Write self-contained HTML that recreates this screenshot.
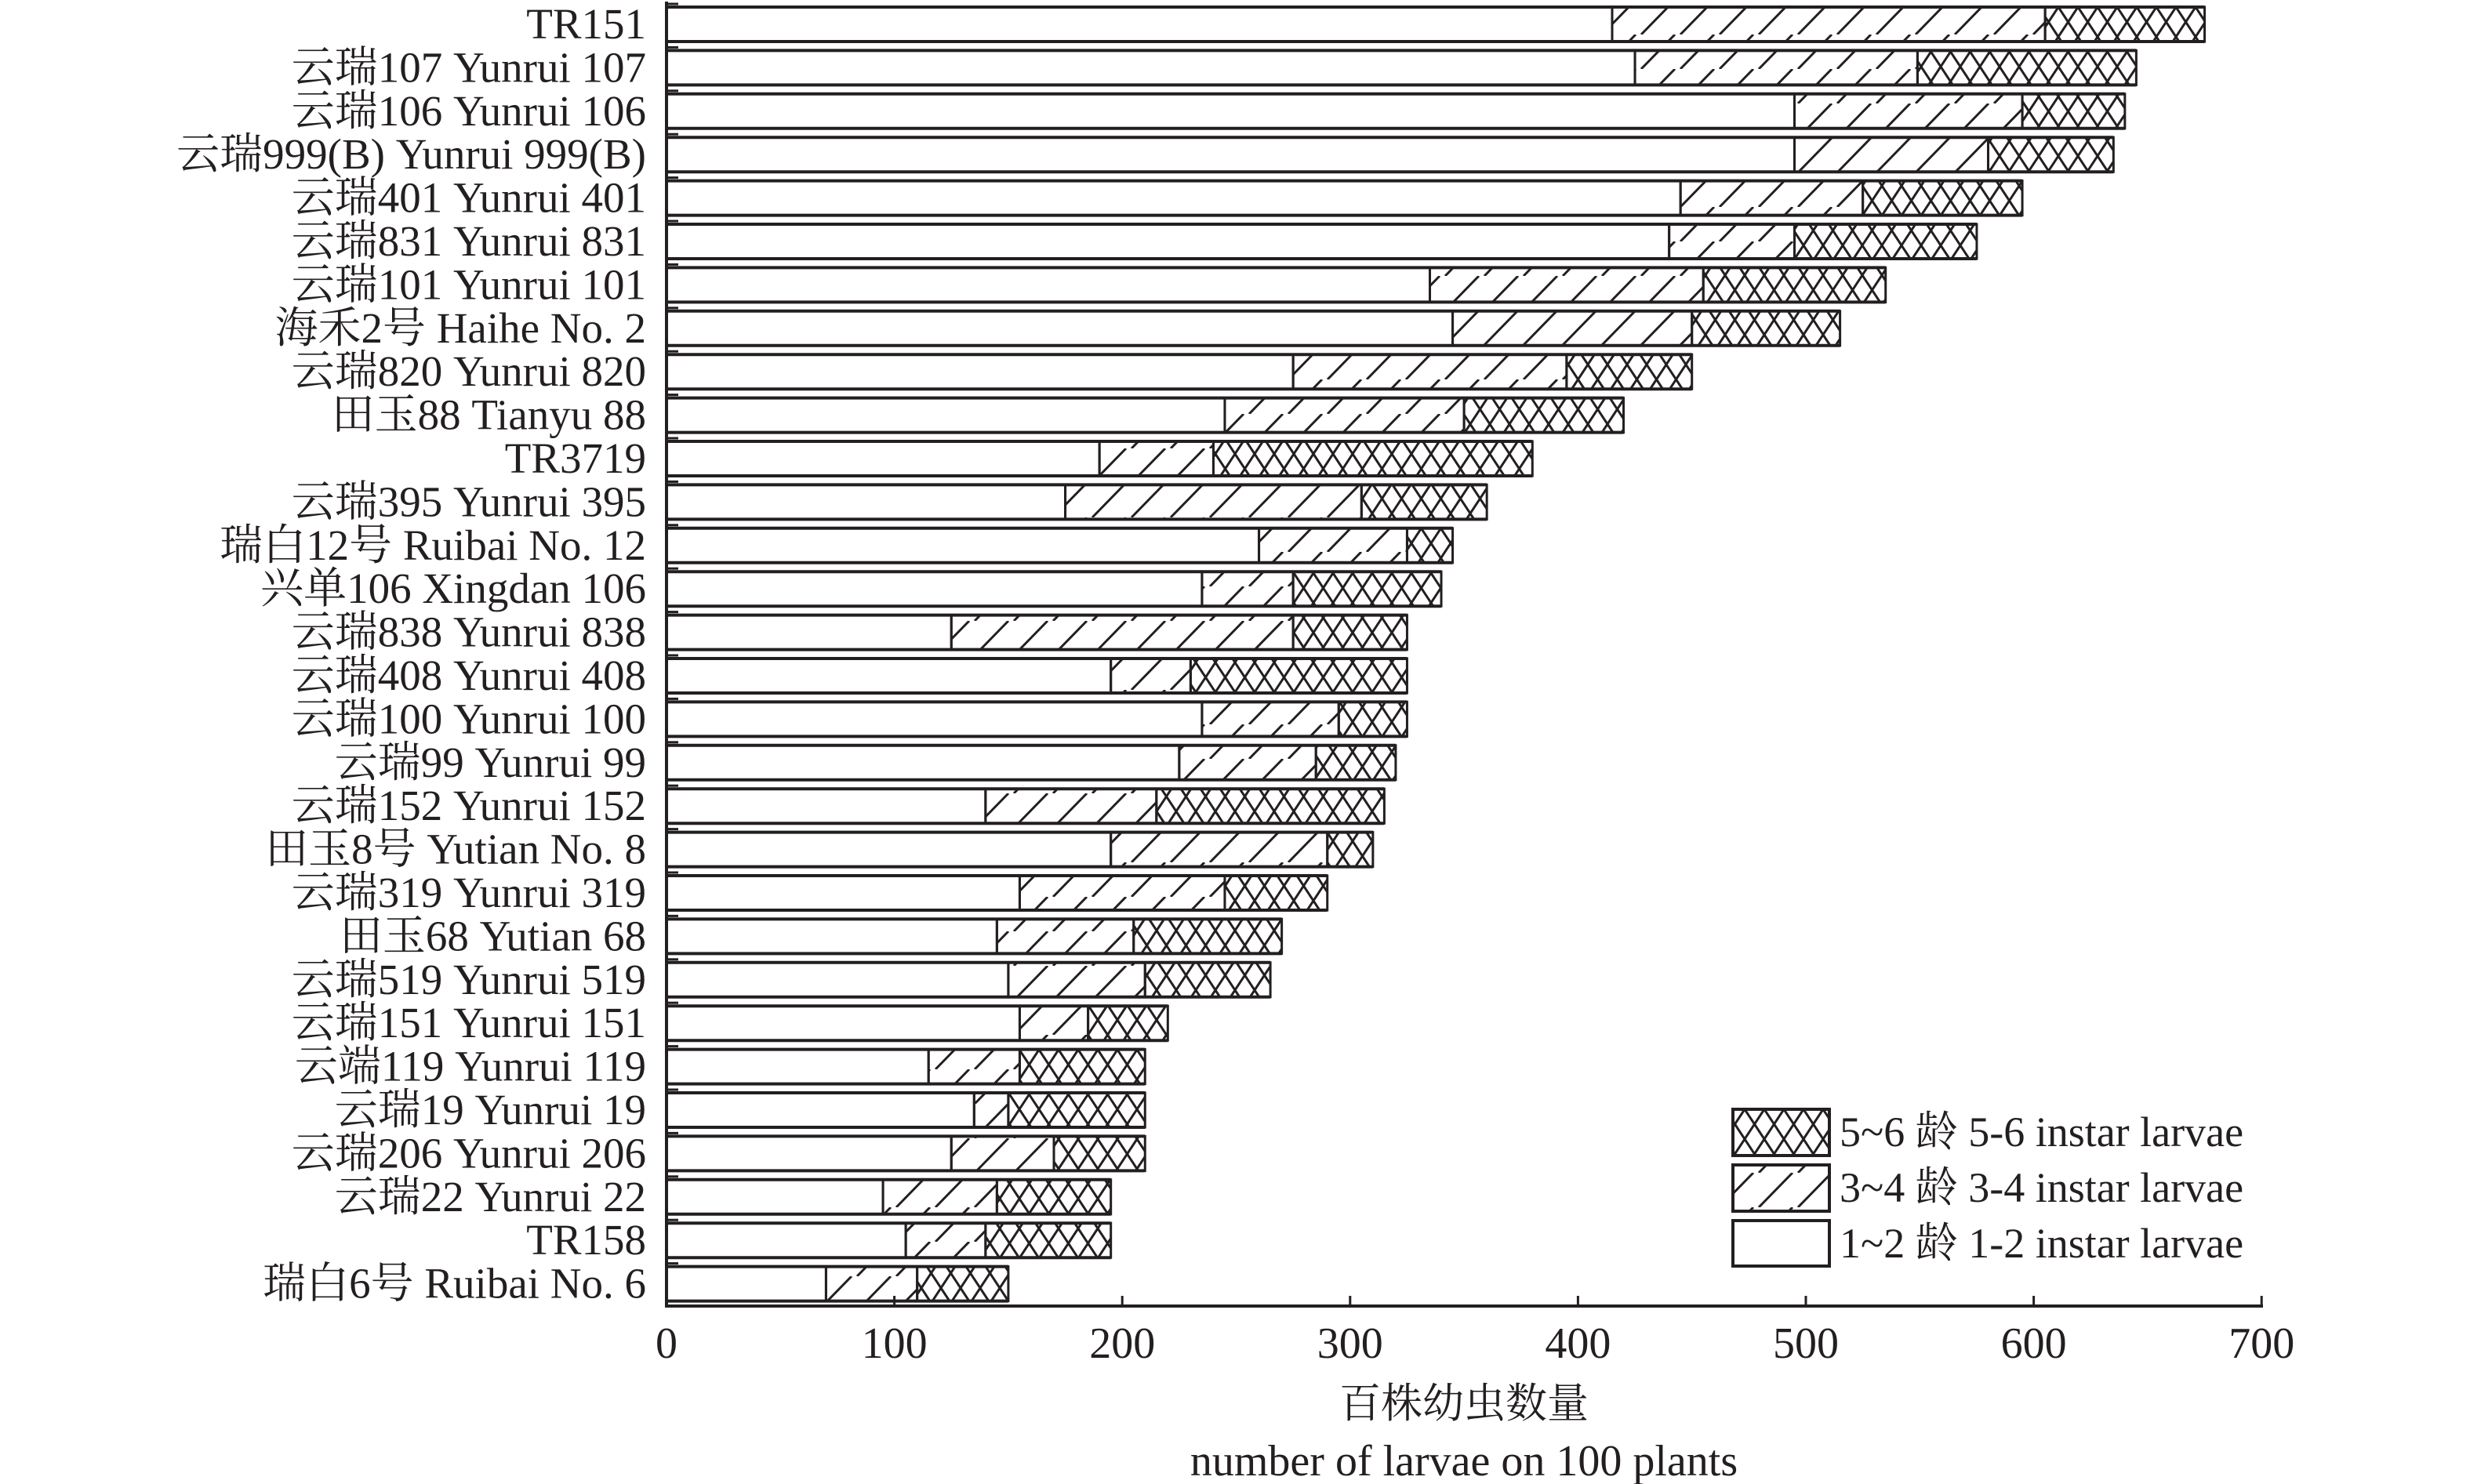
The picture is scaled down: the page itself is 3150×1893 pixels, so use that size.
<!DOCTYPE html>
<html><head><meta charset="utf-8"><style>html,body{margin:0;padding:0;background:#fff}svg{display:block}</style></head>
<body>
<svg xmlns="http://www.w3.org/2000/svg" width="3150" height="1893" viewBox="0 0 3150 1893">
<defs>
<pattern id="hatch" patternUnits="userSpaceOnUse" width="50" height="44">
<line x1="-7" y1="44" x2="36" y2="0" stroke="#231f20" stroke-width="3"/>
<line x1="43" y1="44" x2="86" y2="0" stroke="#231f20" stroke-width="3"/>
</pattern>
<pattern id="cross" patternUnits="userSpaceOnUse" width="25" height="38" y="9">
<line x1="0" y1="38" x2="25" y2="0" stroke="#231f20" stroke-width="3"/>
<line x1="0" y1="0" x2="25" y2="38" stroke="#231f20" stroke-width="3"/>
<line x1="-25" y1="38" x2="0" y2="0" stroke="#231f20" stroke-width="3"/>
<line x1="25" y1="0" x2="50" y2="38" stroke="#231f20" stroke-width="3"/>
</pattern>
</defs>
<g id="bars" stroke="#231f20" stroke-width="3"></g>
<g id="labels" font-family="Liberation Serif, Noto Serif CJK SC, serif" font-size="55" fill="#231f20" text-anchor="end"></g>
<g stroke="#231f20" stroke-width="4" fill="none">
<line x1="850" y1="2" x2="850" y2="1667"/>
<line x1="848" y1="1666" x2="2886" y2="1666"/>
</g>
<g id="ticks" stroke="#231f20" stroke-width="3"></g>
<g id="xt" font-family="Liberation Serif, serif" font-size="56" fill="#231f20" text-anchor="middle"></g>
<text x="1867" y="1808" font-family="Liberation Serif, Noto Serif CJK SC, serif" font-size="53" fill="#231f20" text-anchor="middle">百株幼虫数量</text>
<text x="1867" y="1882" font-family="Liberation Serif, serif" font-size="56" fill="#231f20" text-anchor="middle">number of larvae on 100 plants</text>
<g stroke="#231f20" stroke-width="4">
<rect x="2210" y="1415" width="123" height="59" fill="url(#cross)"/>
<rect x="2210" y="1486" width="123" height="59" fill="url(#hatch)"/>
<rect x="2210" y="1557" width="123" height="58" fill="#fff"/>
</g>
<g font-family="Liberation Serif, Noto Serif CJK SC, serif" font-size="54" fill="#231f20">
<text x="2346" y="1462">5~6 龄 5-6 instar larvae</text>
<text x="2346" y="1533">3~4 龄 3-4 instar larvae</text>
<text x="2346" y="1604">1~2 龄 1-2 instar larvae</text>
</g>
<script>
var d=[["TR151",415,605,675],["云瑞107 Yunrui 107",425,549,645],["云瑞106 Yunrui 106",495,595,640],["云瑞999(B) Yunrui 999(B)",495,580,635],["云瑞401 Yunrui 401",445,525,595],["云瑞831 Yunrui 831",440,495,575],["云瑞101 Yunrui 101",335,455,535],["海禾2号 Haihe No. 2",345,450,515],["云瑞820 Yunrui 820",275,395,450],["田玉88 Tianyu 88",245,350,420],["TR3719",190,240,380],["云瑞395 Yunrui 395",175,305,360],["瑞白12号 Ruibai No. 12",260,325,345],["兴单106 Xingdan 106",235,275,340],["云瑞838 Yunrui 838",125,275,325],["云瑞408 Yunrui 408",195,230,325],["云瑞100 Yunrui 100",235,295,325],["云瑞99 Yunrui 99",225,285,320],["云瑞152 Yunrui 152",140,215,315],["田玉8号 Yutian No. 8",195,290,310],["云瑞319 Yunrui 319",155,245,290],["田玉68 Yutian 68",145,205,270],["云瑞519 Yunrui 519",150,210,265],["云瑞151 Yunrui 151",155,185,220],["云端119 Yunrui 119",115,155,210],["云瑞19 Yunrui 19",135,150,210],["云瑞206 Yunrui 206",125,170,210],["云瑞22 Yunrui 22",95,145,195],["TR158",105,140,195],["瑞白6号 Ruibai No. 6",70,110,150]];
var NS="http://www.w3.org/2000/svg",X0=850,S=2.906;
function el(p,t,a,txt){var e=document.createElementNS(NS,t);for(var k in a)e.setAttribute(k,a[k]);if(txt)e.textContent=txt;p.appendChild(e);return e;}
var B=document.getElementById("bars"),L=document.getElementById("labels"),T=document.getElementById("ticks"),XT=document.getElementById("xt");
d.forEach(function(r,i){var y=9+i*55.4,h=44;
var a=X0+r[1]*S,b=X0+r[2]*S,c=X0+r[3]*S;
el(B,"rect",{x:X0,y:y,width:a-X0,height:h,fill:"#fff"});
el(B,"rect",{x:a,y:y,width:b-a,height:h,fill:"url(#hatch)"});
el(B,"rect",{x:b,y:y,width:c-b,height:h,fill:"url(#cross)"});
el(B,"line",{x1:X0,y1:y,x2:c,y2:y,"stroke-width":4});
el(B,"line",{x1:X0,y1:y+h,x2:c,y2:y+h,"stroke-width":4});
el(L,"text",{x:824,y:y+h/2+18},r[0]);
el(T,"line",{x1:X0,y1:y-4,x2:X0+15,y2:y-4});
});
for(var k=0;k<=7;k++){var x=X0+k*100*S;el(T,"line",{x1:x,y1:1653,x2:x,y2:1666});el(XT,"text",{x:x,y:1732},String(k*100));}
</script>
</svg>
</body></html>
